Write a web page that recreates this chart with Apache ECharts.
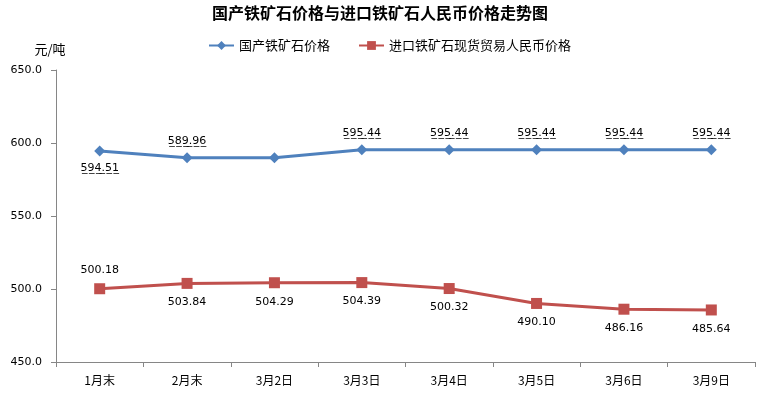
<!DOCTYPE html>
<html><head><meta charset="utf-8">
<script src="https://cdn.jsdelivr.net/npm/echarts@6/dist/echarts.min.js"></script>
<style>html,body{margin:0;padding:0;background:#fff}#c{width:760px;height:394px}</style>
</head><body><div id="c"></div>
<script>
var categories = ['1月末','2月末','3月2日','3月3日','3月4日','3月5日','3月6日','3月9日'];
var domestic = [594.51, 589.96, 589.96, 595.44, 595.44, 595.44, 595.44, 595.44];
var imported = [500.18, 503.84, 504.29, 504.39, 500.32, 490.10, 486.16, 485.64];
var domesticLabelShown = [true, true, false, true, true, true, true, true];
var yTicks = [450, 500, 550, 600, 650];

function ul(s){ return s.split('').map(function(ch){return ch+'\u0332';}).join(''); }

var chart = echarts.init(document.getElementById('c'), null, {renderer:'canvas'});
var blueData = domestic.map(function(v,i){
  var d = {value: v, label: {show: domesticLabelShown[i]}};
  if (i === 0) d.label.position = 'bottom';
  return d;
});
var redData = imported.map(function(v,i){
  var d = {value: v};
  if (i === 0) d.label = {position: 'top'};
  return d;
});
chart.setOption({
  animation: false,
  backgroundColor: '#fff',
  title: {text: '国产铁矿石价格与进口铁矿石人民币价格走势图', left: 'center', top: 0,
    textStyle: {fontSize: 16, fontWeight: 'bold', color: '#000', fontFamily: 'Noto Sans CJK SC'}},
  legend: {top: 34, left: 203, itemWidth: 25, itemHeight: 11, itemGap: 28,
    textStyle: {fontSize: 13, color: '#000', fontFamily: 'Noto Sans CJK SC'},
    data: ['国产铁矿石价格','进口铁矿石现货贸易人民币价格']},
  grid: {left: 56, right: 5, top: 70, bottom: 32},
  xAxis: {type: 'category', data: categories, boundaryGap: true,
    axisLine: {lineStyle: {color: '#868686', width: 1}},
    axisTick: {show: true, length: 5, lineStyle: {color: '#868686'}},
    axisLabel: {color: '#000', fontSize: 12, margin: 12, fontFamily: 'Noto Sans CJK SC'}},
  yAxis: {type: 'value', min: yTicks[0], max: yTicks[yTicks.length-1], interval: 50,
    name: '元/吨', nameLocation: 'end', nameGap: 14,
    nameTextStyle: {color: '#000', fontSize: 13, fontFamily: 'Noto Sans CJK SC', align: 'center', padding: [0, 12, 0, 0]},
    axisLine: {show: true, lineStyle: {color: '#868686'}},
    axisTick: {show: true, length: 5, lineStyle: {color: '#868686'}},
    splitLine: {show: false},
    axisLabel: {color: '#000', fontSize: 11, margin: 14, fontFamily: 'DejaVu Sans',
      formatter: function(v){ return v.toFixed(1); }}},
  series: [
    {name: '国产铁矿石价格', type: 'line', data: blueData,
      symbol: 'diamond', symbolSize: 11,
      lineStyle: {color: '#4F81BD', width: 3}, itemStyle: {color: '#4F81BD'},
      label: {show: true, position: 'top', distance: 6, color: '#000', fontSize: 11, fontFamily: 'DejaVu Sans',
        formatter: function(p){ return ul(p.value.toFixed(2)); }}},
    {name: '进口铁矿石现货贸易人民币价格', type: 'line', data: redData,
      symbol: 'rect', symbolSize: 11,
      lineStyle: {color: '#C0504D', width: 3}, itemStyle: {color: '#C0504D'},
      label: {show: true, position: 'bottom', distance: 8, color: '#000', fontSize: 11, fontFamily: 'DejaVu Sans',
        formatter: function(p){ return p.value.toFixed(2); }}}
  ]
});
</script></body></html>
